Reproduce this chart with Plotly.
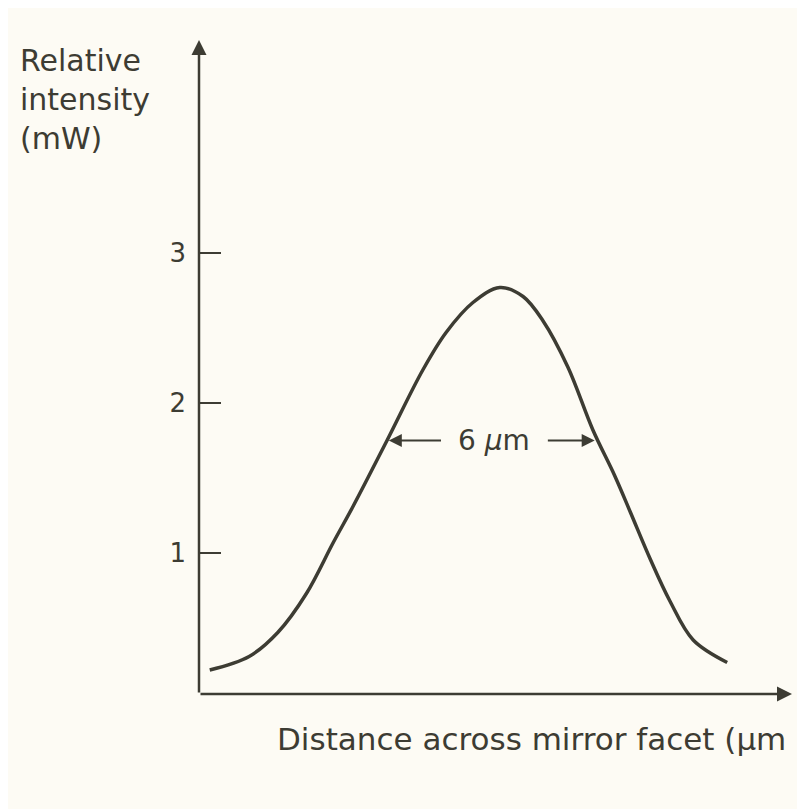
import plotly.graph_objects as go

# Data (distance in µm, intensity in mW)
x_um = [0.3, 1.4, 2.2, 3.0, 3.75, 4.3, 5.25, 6.25, 6.9, 7.65, 8.4, 9.05, 9.6,
        10.3, 11.0, 11.6, 12.05, 12.6, 13.15, 13.8, 14.75]
intensity_mw = [0.22, 0.31, 0.47, 0.73, 1.07, 1.31, 1.75, 2.22, 2.47, 2.67, 2.77,
                2.71, 2.55, 2.24, 1.82, 1.52, 1.27, 0.96, 0.68, 0.42, 0.27]
y_ticks = [1, 2, 3]
y_tick_labels = ["1", "2", "3"]
fwhm_left, fwhm_right, fwhm_level = 5.3, 11.05, 1.75
fwhm_label = "6 <i>µ</i>m"

X_RANGE = [0, 16.56]
Y_RANGE = [0.06, 4.42]
INK = "#3d3c33"
FONT = "DejaVu Sans, sans-serif"

fig = go.Figure()
fig.add_trace(go.Scatter(
    x=x_um, y=intensity_mw, mode="lines",
    line=dict(color=INK, width=3.5, shape="spline", smoothing=1.0),
    hoverinfo="skip", showlegend=False))

fig.update_layout(
    width=805, height=809,
    margin=dict(l=191, r=21, t=32, b=123, autoexpand=False),
    paper_bgcolor="#fdfbf4", plot_bgcolor="rgba(0,0,0,0)",
    font=dict(family=FONT, color=INK),
    showlegend=False,
    xaxis=dict(range=X_RANGE, showgrid=False, zeroline=False, showline=False,
               showticklabels=False, ticks="", automargin=False),
    yaxis=dict(range=Y_RANGE, showgrid=False, zeroline=False, showline=False,
               tickvals=y_ticks, ticktext=y_tick_labels, ticks="inside",
               ticklen=22, tickwidth=2, tickcolor=INK, ticklabelstandoff=12,
               automargin=False,
               tickfont=dict(size=26, color=INK, family=FONT)),
)

# Axes with arrow heads
fig.add_annotation(x=0, y=Y_RANGE[1], ax=0, ay=Y_RANGE[0], xref="x", yref="y",
                   axref="x", ayref="y", text="", showarrow=True,
                   arrowhead=2, arrowsize=1.2, arrowwidth=2.5, arrowcolor=INK)
fig.add_annotation(x=X_RANGE[1], y=Y_RANGE[0], ax=0, ay=Y_RANGE[0], xref="x",
                   yref="y", axref="x", ayref="y", text="", showarrow=True,
                   arrowhead=2, arrowsize=1.2, arrowwidth=2.5, arrowcolor=INK)

# FWHM annotation
fig.add_annotation(x=fwhm_left, y=fwhm_level, ax=6.8, ay=fwhm_level, xref="x",
                   yref="y", axref="x", ayref="y", text="", showarrow=True,
                   arrowhead=2, arrowsize=1.3, arrowwidth=2, arrowcolor=INK)
fig.add_annotation(x=fwhm_right, y=fwhm_level, ax=9.7, ay=fwhm_level, xref="x",
                   yref="y", axref="x", ayref="y", text="", showarrow=True,
                   arrowhead=2, arrowsize=1.3, arrowwidth=2, arrowcolor=INK)
fig.add_annotation(x=(6.8 + 9.7) / 2, y=fwhm_level, xref="x", yref="y",
                   text=fwhm_label, showarrow=False,
                   font=dict(size=28, color=INK, family=FONT))

# Axis titles
fig.add_annotation(x=0, y=1.0, xref="paper", yref="paper",
                   text="Relative<br>intensity<br>(mW)", showarrow=False,
                   xanchor="left", yanchor="top", align="left",
                   xshift=-181, yshift=-1,
                   font=dict(size=30, color=INK, family=FONT))
fig.add_annotation(x=0, y=0, xref="paper", yref="paper",
                   text="Distance across mirror facet (µm", showarrow=False,
                   xanchor="left", yanchor="top", xshift=76, yshift=-25,
                   font=dict(size=31, color=INK, family=FONT))

fig.write_html("out.html")
